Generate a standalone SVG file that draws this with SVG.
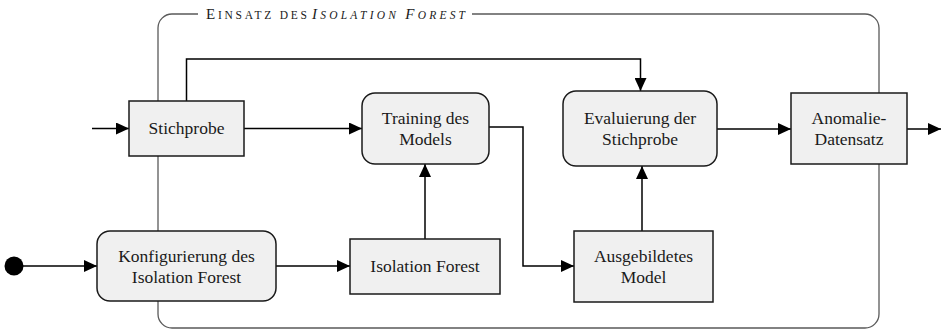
<svg xmlns="http://www.w3.org/2000/svg" width="944" height="330" viewBox="0 0 944 330">
<style>
.frame{fill:none;stroke:#5a5a5a;stroke-width:1.3}
.box{fill:#f0f0f0;stroke:#1a1a1a;stroke-width:1.5}
.lbl{font-family:"Liberation Serif","Times New Roman",serif;font-size:17.5px;fill:#1a1a1a;text-anchor:middle}
.ttl{font-family:"Liberation Serif","Times New Roman",serif;font-size:11.5px;fill:#1a1a1a}
.cap{font-size:15px}
.conn path{fill:none;stroke:#000;stroke-width:1.5}
</style>
<defs>
<marker id="ah" markerUnits="userSpaceOnUse" markerWidth="14" markerHeight="12" refX="13" refY="6" orient="auto">
<path d="M0,0 L13,6 L0,12 Z" fill="#000"/>
</marker>
</defs>
<rect width="944" height="330" fill="#fff"/>
<g id="frame">
<path class="frame" d="M472,14 H865 A14,14 0 0 1 879,28 V314 A14,14 0 0 1 865,328 H172 A14,14 0 0 1 158,314 V28 A14,14 0 0 1 172,14 H198"/>
<text class="ttl" x="206" y="18.5" textLength="101" lengthAdjust="spacing"><tspan class="cap">E</tspan>INSATZ DES</text>
<text class="ttl" x="312" y="18.5" font-style="italic" textLength="153" lengthAdjust="spacing"><tspan class="cap">I</tspan>SOLATION <tspan class="cap">F</tspan>OREST</text>
</g>
<g class="conn" id="connectors">
<path d="M92,128.5 H129" marker-end="url(#ah)"/>
<path d="M244,128.5 H362" marker-end="url(#ah)"/>
<path d="M186.5,101 V59 H640.5 V91" marker-end="url(#ah)"/>
<path d="M489,127 H523 V266 H574" marker-end="url(#ah)"/>
<path d="M425,239 V164" marker-end="url(#ah)"/>
<path d="M642,231 V166" marker-end="url(#ah)"/>
<path d="M717,129 H791" marker-end="url(#ah)"/>
<path d="M907,129 H941" marker-end="url(#ah)"/>
<path d="M14,266 H97" marker-end="url(#ah)"/>
<path d="M276,266 H350" marker-end="url(#ah)"/>
</g>
<g id="start"><circle cx="14" cy="266" r="9.5" fill="#000"/></g>
<g id="stichprobe">
<rect class="box" x="129" y="101" width="115" height="55"/>
<text class="lbl" x="186.5" y="134">Stichprobe</text>
</g>
<g id="training">
<rect class="box" x="362" y="93" width="127" height="71" rx="13"/>
<text class="lbl" x="425.5" y="124">Training des</text>
<text class="lbl" x="425.5" y="145">Models</text>
</g>
<g id="evaluierung">
<rect class="box" x="563" y="91" width="154" height="75" rx="13"/>
<text class="lbl" x="640" y="124">Evaluierung der</text>
<text class="lbl" x="640" y="145">Stichprobe</text>
</g>
<g id="anomalie">
<rect class="box" x="791" y="93" width="116" height="71"/>
<text class="lbl" x="849" y="124">Anomalie-</text>
<text class="lbl" x="849" y="145">Datensatz</text>
</g>
<g id="konfigurierung">
<rect class="box" x="97" y="231" width="179" height="70" rx="13"/>
<text class="lbl" x="186.5" y="261.5">Konfigurierung des</text>
<text class="lbl" x="186.5" y="282.5">Isolation Forest</text>
</g>
<g id="isolationforest">
<rect class="box" x="350" y="239" width="150" height="55"/>
<text class="lbl" x="425" y="272">Isolation Forest</text>
</g>
<g id="ausgebildet">
<rect class="box" x="574" y="231" width="139" height="71"/>
<text class="lbl" x="643.5" y="261.5">Ausgebildetes</text>
<text class="lbl" x="643.5" y="282.5">Model</text>
</g>
</svg>
